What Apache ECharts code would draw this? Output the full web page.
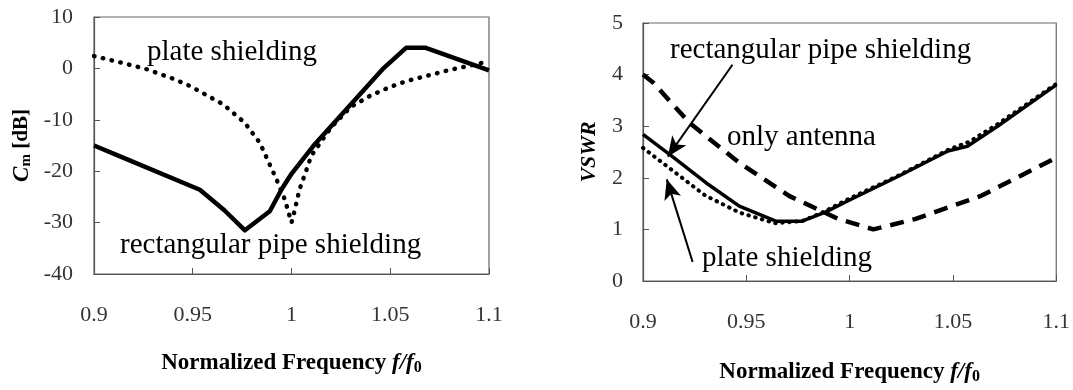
<!DOCTYPE html>
<html><head><meta charset="utf-8">
<script src="https://cdn.jsdelivr.net/npm/echarts@6/dist/echarts.min.js"></script>
<style>html,body{margin:0;padding:0;background:#fff}#c{width:1073px;height:390px}</style>
</head><body><div id="c"></div>
<script>
// tick labels
const xTickLabels = ['0.9', '0.95', '1', '1.05', '1.1'];
const cmTickLabels = ['-40', '-30', '-20', '-10', '0', '10'];
const vswrTickLabels = ['0', '1', '2', '3', '4', '5'];

// Left chart: coupling Cm [dB]
const fRectL = [0.9, 0.915, 0.9536, 0.966, 0.9764, 0.989, 0.995, 1.0, 1.011, 1.046, 1.058, 1.068, 1.1];
const cmRect = [-15.0, -17.4, -23.6, -27.6, -31.5, -27.8, -23.5, -20.5, -15.1, -0.2, 4.0, 4.0, -0.4];
const fPlateL = [0.9, 0.915, 0.927, 0.94, 0.9485, 0.9654, 0.9764, 0.984, 0.9924, 0.9966, 1.0, 1.0017, 1.004, 1.0076, 1.010, 1.02, 1.03, 1.04, 1.05, 1.058, 1.07, 1.08, 1.09, 1.1];
const cmPlate = [2.4, 1.0, -0.2, -2.0, -3.4, -7.0, -10.6, -14.5, -21.6, -25.5, -30.0, -27.5, -23.6, -19.7, -17.0, -11.5, -7.5, -5.3, -3.6, -2.5, -1.3, -0.3, 0.5, 1.4];

// Right chart: VSWR
const fAnt = [0.9, 0.905, 0.9226, 0.9466, 0.9707, 0.9947, 1.0115, 1.0316, 1.0636, 1.1];
const vswrAnt = [4.0, 3.84, 3.06, 2.29, 1.65, 1.2, 1.0, 1.2, 1.65, 2.39];
const fRectR = [0.9, 0.913, 0.9306, 0.9466, 0.9643, 0.977, 0.988, 1.0, 1.0236, 1.0476, 1.057, 1.0716, 1.1];
const vswrRect = [2.84, 2.45, 1.9, 1.45, 1.16, 1.16, 1.33, 1.57, 2.03, 2.52, 2.61, 3.0, 3.8];
const fPlateR = [0.9, 0.915, 0.93, 0.947, 0.964, 0.977, 0.988, 1.0, 1.024, 1.048, 1.058, 1.072, 1.1];
const vswrPlate = [2.58, 2.12, 1.66, 1.32, 1.12, 1.16, 1.35, 1.6, 2.05, 2.55, 2.7, 3.05, 3.82];

// arrows (data coordinates on right chart)
const arrowRect = [[0.9433, 4.19], [0.912, 2.41]];
const arrowPlate = [[0.924, 0.37], [0.9115, 1.97]];

const pair = (xs, ys) => xs.map((x, i) => [x, ys[i]]);

const FONT = "'Liberation Serif', 'DejaVu Serif', serif";
const tickFont = { fontFamily: FONT, fontSize: 22, color: '#333' };

const xAxisBase = (gi) => ({
  type: 'value', gridIndex: gi, min: 0.9, max: 1.1, interval: 0.05,
  axisLine: { show: true, onZero: false, lineStyle: { color: '#555', width: 1.2 } },
  axisTick: { show: true, inside: true, length: 6, lineStyle: { color: '#555' } },
  splitLine: { show: false },
  axisLabel: Object.assign({ margin: 30, formatter: v => xTickLabels[Math.round((v - 0.9) / 0.05)] }, tickFont),
  name: '{b|Normalized Frequency }{i|f/f}{s|0}',
  nameLocation: 'middle',
  nameGap: gi === 0 ? 76 : 78,
  nameTextStyle: {
    rich: {
      b: { fontFamily: FONT, fontWeight: 'bold', fontSize: 23, color: '#000' },
      i: { fontFamily: FONT, fontWeight: 'bold', fontStyle: 'italic', fontSize: 23, color: '#000' },
      s: { fontFamily: FONT, fontWeight: 'bold', fontSize: 16, color: '#000', padding: [10, 0, 0, 0] }
    }
  }
});

const option = {
  animation: false,
  backgroundColor: '#fff',
  grid: [
    { left: 94, top: 17, width: 395, height: 257, show: true, borderColor: '#666', borderWidth: 1.2 },
    { left: 643, top: 23, width: 416, height: 259, show: true, borderColor: '#666', borderWidth: 1.2 }
  ],
  xAxis: [xAxisBase(0), xAxisBase(1)],
  yAxis: [
    {
      type: 'value', gridIndex: 0, min: -40, max: 10, interval: 10,
      axisLine: { show: true, onZero: false, lineStyle: { color: '#555', width: 1.2 } },
      axisTick: { show: true, inside: true, length: 6, lineStyle: { color: '#555' } },
      splitLine: { show: false },
      axisLabel: Object.assign({ margin: 21, formatter: v => cmTickLabels[Math.round((v + 40) / 10)] }, tickFont),
      name: '{i|C}{s|m}{b| [dB]}',
      nameLocation: 'middle', nameRotate: 90, nameGap: 60,
      nameTextStyle: {
        rich: {
          i: { fontFamily: FONT, fontWeight: 'bold', fontStyle: 'italic', fontSize: 23, color: '#000' },
          s: { fontFamily: FONT, fontWeight: 'bold', fontSize: 15, color: '#000', padding: [9, 0, 0, 0] },
          b: { fontFamily: FONT, fontWeight: 'bold', fontSize: 21, color: '#000' }
        }
      }
    },
    {
      type: 'value', gridIndex: 1, min: 0, max: 5, interval: 1,
      axisLine: { show: true, onZero: false, lineStyle: { color: '#555', width: 1.2 } },
      axisTick: { show: true, inside: true, length: 6, lineStyle: { color: '#555' } },
      splitLine: { show: false },
      axisLabel: Object.assign({ margin: 20, formatter: v => vswrTickLabels[Math.round(v)] }, tickFont),
      name: 'VSWR',
      nameLocation: 'middle', nameRotate: 90, nameGap: 43,
      nameTextStyle: { fontFamily: FONT, fontWeight: 'bold', fontStyle: 'italic', fontSize: 22, color: '#000' }
    }
  ],
  series: [
    {
      type: 'line', xAxisIndex: 0, yAxisIndex: 0, data: pair(fRectL, cmRect), showSymbol: false,
      lineStyle: { color: '#000', width: 4.5, join: 'round' }
    },
    {
      type: 'line', xAxisIndex: 0, yAxisIndex: 0, data: pair(fPlateL, cmPlate), showSymbol: false,
      lineStyle: { color: '#000', width: 4.5, type: [0.5, 8.5], cap: 'round' }
    },
    {
      type: 'line', xAxisIndex: 1, yAxisIndex: 1, data: pair(fAnt, vswrAnt), showSymbol: false,
      lineStyle: { color: '#000', width: 4.5, type: [14, 9] }
    },
    {
      type: 'line', xAxisIndex: 1, yAxisIndex: 1, data: pair(fPlateR, vswrPlate), showSymbol: false,
      lineStyle: { color: '#000', width: 4, type: [0.5, 6.5], cap: 'round' }
    },
    {
      type: 'line', xAxisIndex: 1, yAxisIndex: 1, data: pair(fRectR, vswrRect), showSymbol: false,
      lineStyle: { color: '#000', width: 3.5, join: 'round' },
      markLine: {
        silent: true, animation: false,
        symbol: ['none', 'arrow'], symbolSize: [13, 20],
        label: { show: false },
        lineStyle: { color: '#000', width: 2, type: 'solid' },
        data: [
          [{ coord: arrowRect[0] }, { coord: arrowRect[1] }],
          [{ coord: arrowPlate[0] }, { coord: arrowPlate[1] }]
        ]
      }
    }
  ],
  graphic: [
    { type: 'text', left: 147, top: 38, style: { text: 'plate shielding', font: "29px 'Liberation Serif'", fill: '#000' } },
    { type: 'text', left: 120, top: 231, style: { text: 'rectangular pipe shielding', font: "29px 'Liberation Serif'", fill: '#000' } },
    { type: 'text', left: 670, top: 36, style: { text: 'rectangular pipe shielding', font: "29px 'Liberation Serif'", fill: '#000' } },
    { type: 'text', left: 727, top: 123, style: { text: 'only antenna', font: "29px 'Liberation Serif'", fill: '#000' } },
    { type: 'text', left: 702, top: 244, style: { text: 'plate shielding', font: "29px 'Liberation Serif'", fill: '#000' } }
  ]
};

const chart = echarts.init(document.getElementById('c'), null, { renderer: 'canvas' });
chart.setOption(option);
</script>
</body></html>
